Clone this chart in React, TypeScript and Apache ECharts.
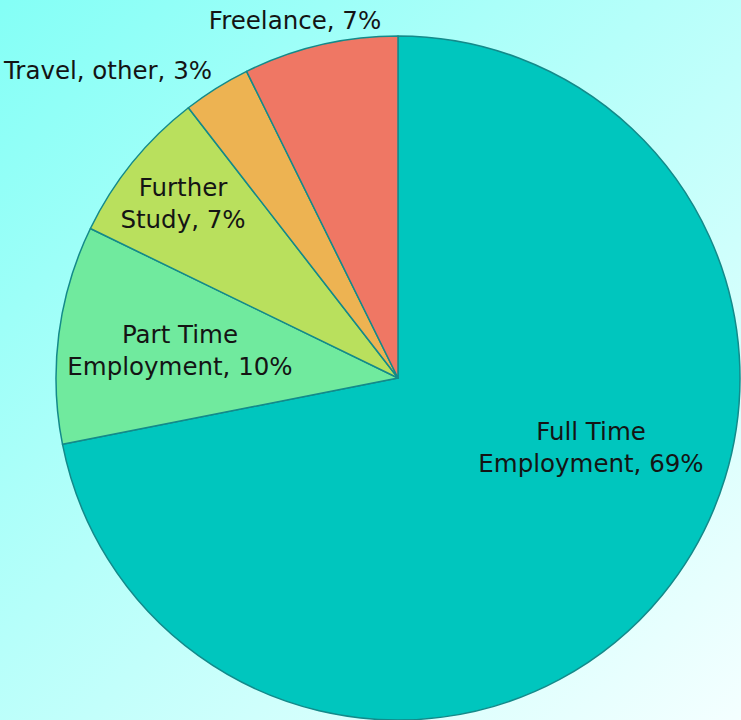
import React, { useEffect, useRef } from "react";
import * as echarts from "echarts";

const categories = ["Full Time Employment", "Part Time Employment", "Further Study", "Travel, other", "Freelance"];
const labelNames = ["Full Time\nEmployment", "Part Time\nEmployment", "Further\nStudy", "Travel, other", "Freelance"];
const values = [71.9, 10.3, 7.3, 3.2, 7.3];
const shownPercents = [69, 10, 7, 3, 7];
const colors = ["#00C6BE", "#70EA9E", "#B9E05D", "#EDB352", "#EF7764"];
const labelPos: [number, number][] = [
  [591, 447],
  [180, 350],
  [183, 203],
  [108, 70],
  [295, 20],
];

export default function App() {
  const ref = useRef<HTMLDivElement>(null);
  useEffect(() => {
    document.body.style.margin = "0";
    const chart = echarts.init(ref.current!, null, { renderer: "svg" });
    chart.setOption({
      animation: false,
      backgroundColor: new echarts.graphic.LinearGradient(0, 0, 1, 1, [
        { offset: 0, color: "#84FFF6" },
        { offset: 1, color: "#F4FFFF" },
      ]),
      series: [
        {
          type: "pie",
          center: [398, 378],
          radius: 342,
          startAngle: 90,
          clockwise: true,
          avoidLabelOverlap: false,
          itemStyle: { borderColor: "#138A8A", borderWidth: 1.5 },
          label: {
            show: true,
            position: "inside",
            fontFamily: "DejaVu Sans",
            fontSize: 24.5,
            lineHeight: 32,
            color: "#141414",
            formatter: (p: any) => `${labelNames[p.dataIndex]}, ${shownPercents[p.dataIndex]}%`,
          },
          labelLine: { show: false },
          labelLayout: (p: any) => ({
            x: labelPos[p.dataIndex][0],
            y: labelPos[p.dataIndex][1],
            align: "center",
            verticalAlign: "middle",
          }),
          emphasis: { disabled: true },
          data: categories.map((name, i) => ({
            name,
            value: values[i],
            itemStyle: { color: colors[i] },
          })),
        },
      ],
    });
    return () => chart.dispose();
  }, []);
  return <div ref={ref} style={{ position: "absolute", left: 0, top: 0, width: 741, height: 720 }} />;
}
